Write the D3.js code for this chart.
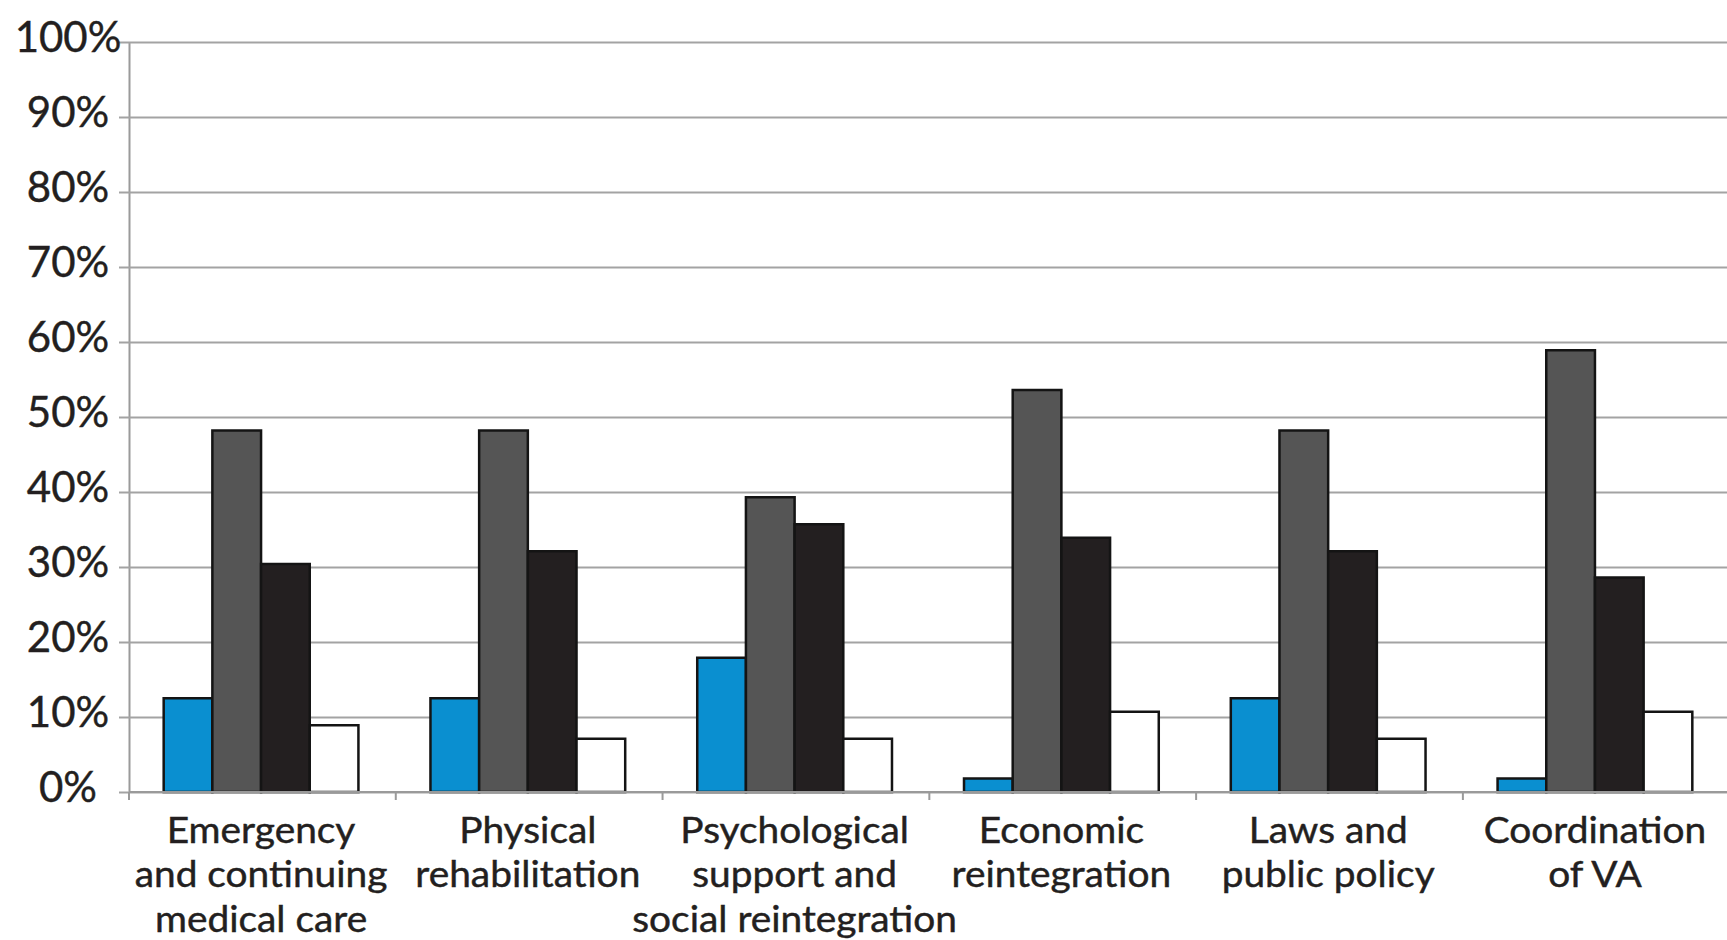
<!DOCTYPE html>
<html>
<head>
<meta charset="utf-8">
<script src="https://cdn.jsdelivr.net/npm/d3@7"></script>
<style>
  html, body { margin: 0; padding: 0; background: #fff; }
  svg { display: block; }
  text { font-family: Lato, "Open Sans", sans-serif; fill: #231f20; }
</style>
</head>
<body>
<svg id="chart" width="1727" height="940"></svg>
<script>
// Programme areas (category labels, "|" marks a line break)
const categories = [
  "Emergency|and continuing|medical care",
  "Physical|rehabilitation",
  "Psychological|support and|social reintegration",
  "Economic|reintegration",
  "Laws and|public policy",
  "Coordination|of VA"
];

// Share of responses per programme area, in percent (four rating levels)
const seriesBlue  = [12.5, 12.5, 17.9,  1.8, 12.5,  1.8];
const seriesGray  = [48.2, 48.2, 39.3, 53.6, 48.2, 58.9];
const seriesBlack = [30.4, 32.1, 35.7, 33.9, 32.1, 28.6];
const seriesWhite = [ 8.9,  7.1,  7.1, 10.7,  7.1, 10.7];

const yTicks = [0, 10, 20, 30, 40, 50, 60, 70, 80, 90, 100];

const seriesList = [
  { values: seriesBlue,  fill: "#0a8fd0" },
  { values: seriesGray,  fill: "#555555" },
  { values: seriesBlack, fill: "#231f20" },
  { values: seriesWhite, fill: "#ffffff" }
];

const svg = d3.select("#chart");
const plot = { left: 129, right: 1727, top: 42, bottom: 792 };

const x0 = d3.scaleBand()
  .domain(d3.range(categories.length))
  .range([plot.left, plot.right])
  .paddingInner(0.27)
  .paddingOuter(0.13);

const x1 = d3.scaleBand()
  .domain(d3.range(seriesList.length))
  .range([0, x0.bandwidth()]);

const y = d3.scaleLinear().domain([0, 100]).range([plot.bottom, plot.top]);

// Horizontal gridlines with left tick marks
const yAxis = d3.axisLeft(y)
  .tickValues(yTicks)
  .tickSize(-(plot.right - plot.left))
  .tickSizeOuter(0)
  .tickFormat(d => d + "%");

const gy = svg.append("g")
  .attr("transform", `translate(${plot.left},0)`)
  .call(yAxis);
gy.select(".domain").attr("stroke", "#9a9a9a").attr("stroke-width", 2);
gy.selectAll(".tick line")
  .attr("x1", -10)
  .attr("stroke", "#a3a3a3")
  .attr("stroke-width", 2);
gy.selectAll(".tick text")
  .attr("x", -61)
  .attr("y", -6)
  .attr("dy", "0.36em")
  .attr("text-anchor", "middle")
  .attr("font-size", 42)
  .attr("font-family", "Lato, sans-serif")
  .attr("fill", "#231f20")
  .attr("stroke", "#231f20")
  .attr("stroke-width", 0.4);

// Bars
const groups = svg.append("g")
  .selectAll("g")
  .data(categories.map((c, i) => i))
  .join("g")
  .attr("transform", i => `translate(${x0(i)},0)`);

groups.selectAll("rect")
  .data(i => seriesList.map((s, k) => ({ k, v: s.values[i], fill: s.fill })))
  .join("rect")
  .attr("x", d => x1(d.k))
  .attr("width", x1.bandwidth())
  .attr("y", d => y(d.v))
  .attr("height", d => y(0) - y(d.v))
  .attr("fill", d => d.fill)
  .attr("stroke", "#141414")
  .attr("stroke-width", 2.5);

// Category axis with small ticks between groups
const step = x0.step();
const boundaries = d3.range(categories.length + 1).map(i => plot.left + i * step);
const gx = svg.append("g");
gx.append("line")
  .attr("x1", plot.left).attr("x2", plot.right)
  .attr("y1", y(0)).attr("y2", y(0))
  .attr("stroke", "#9a9a9a").attr("stroke-width", 2);
gx.selectAll("line.tick")
  .data(boundaries)
  .join("line")
  .attr("class", "tick")
  .attr("x1", d => d).attr("x2", d => d)
  .attr("y1", y(0)).attr("y2", y(0) + 8)
  .attr("stroke", "#9a9a9a").attr("stroke-width", 2);

// Category labels: one wrapped text block per category
const labelTop = 843;
const lineGap = 44.5;
const labels = svg.append("g")
  .selectAll("text")
  .data(categories.map((c, i) => ({ i, lines: c.split("|") })))
  .join("text")
  .attr("transform", d => `translate(${x0(d.i) + x0.bandwidth() / 2},${labelTop}) scale(1.05,1)`)
  .attr("text-anchor", "middle")
  .attr("font-size", 37)
  .attr("stroke", "#231f20")
  .attr("stroke-width", 0.45);

labels.selectAll("tspan")
  .data(d => d.lines)
  .join("tspan")
  .attr("x", 0)
  .attr("y", (line, j) => j * lineGap)
  .text(line => line);
</script>
</body>
</html>
